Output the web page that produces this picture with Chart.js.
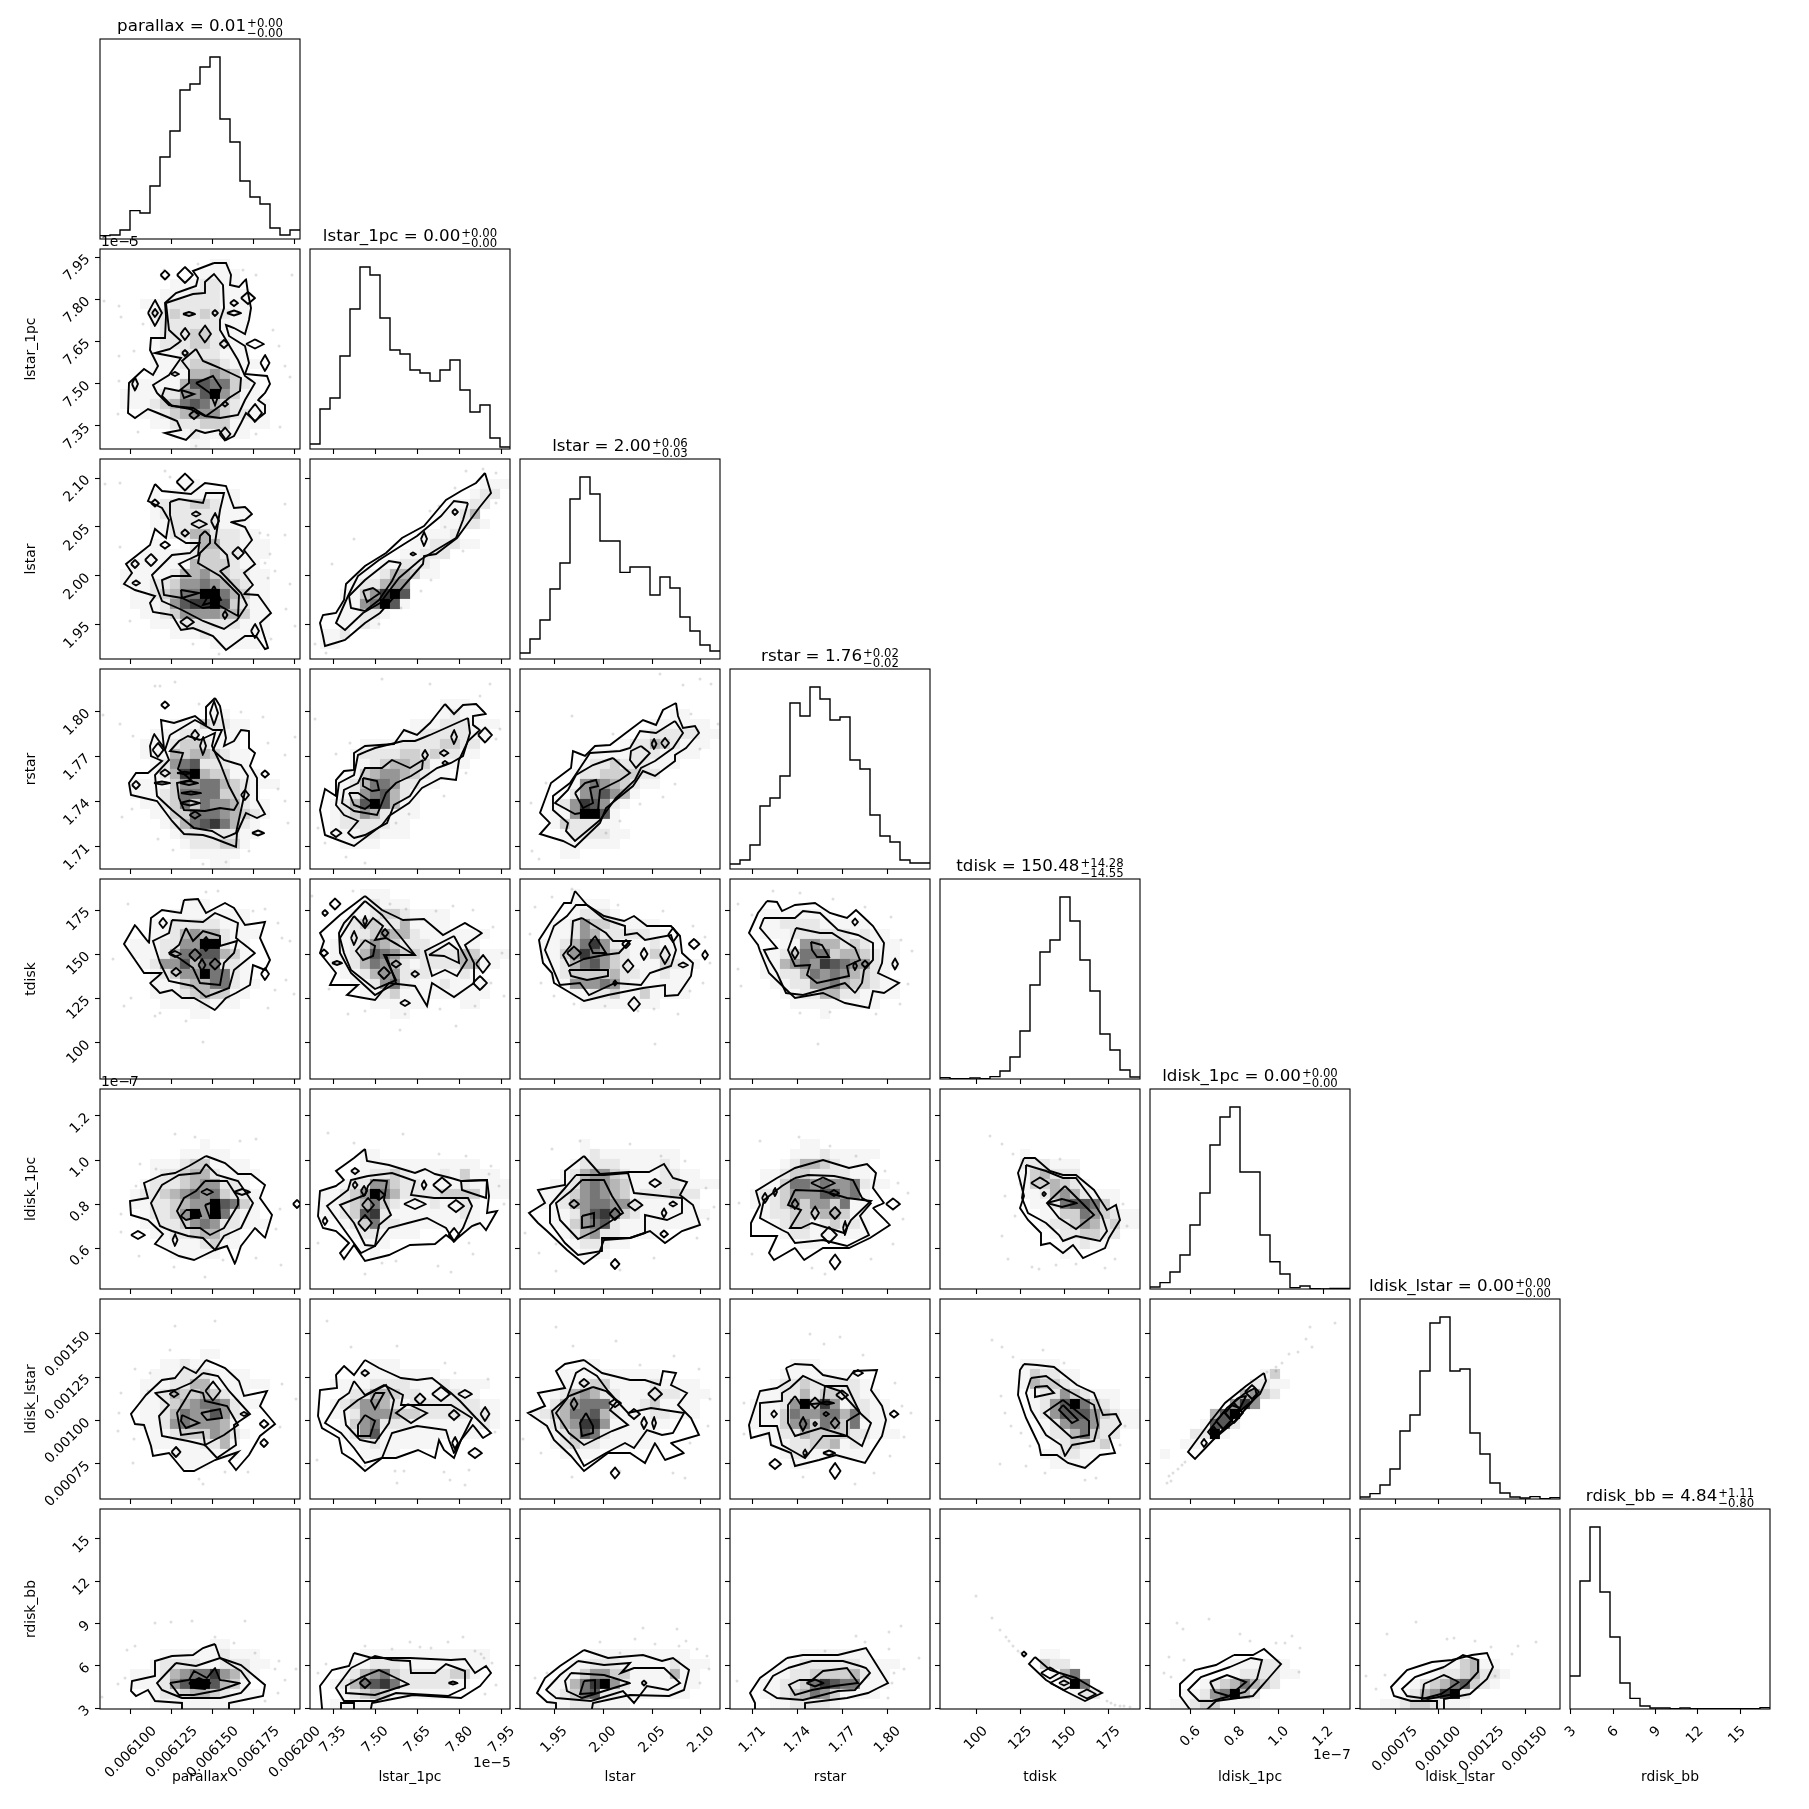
<!DOCTYPE html>
<html>
<head>
<meta charset="utf-8">
<script src="https://cdn.jsdelivr.net/npm/chart.js@4"></script>
<style>
  html, body { margin: 0; background: #fff; }
  #fig { position: relative; width: 1809px; height: 1809px; overflow: hidden; font-family: "DejaVu Sans", sans-serif; color: #000; }
  #fig canvas { position: absolute; }
  .txt { position: absolute; font-size: 13.9px; white-space: nowrap; line-height: 1; }
  .ttl { text-align: center; width: 300px; font-size: 16.7px; }
  .ss { display: inline-block; vertical-align: -6px; font-size: 11.7px; line-height: 10px; text-align: left; margin-left: 1px; }
  .ss span { display: block; }
</style>
</head>
<body>
<div id="fig"></div>
<script>
// names, titles
const names = ["parallax", "lstar_1pc", "lstar", "rstar", "tdisk", "ldisk_1pc", "ldisk_lstar", "rdisk_bb"];
const medians = ["0.01", "0.00", "2.00", "1.76", "150.48", "0.00", "0.00", "4.84"];
const plusErr = ["0.00", "0.00", "0.06", "0.02", "14.28", "0.00", "0.00", "1.11"];
const minusErr = ["0.00", "0.00", "0.03", "0.02", "14.55", "0.00", "0.00", "0.80"];

// axis ranges, lstar_1pc in 1e-5 and ldisk_1pc in 1e-7 as on the axes
const axisLo = [0.0060811, 7.268, 1.915, 1.695, 79.6, 0.4163, 0.0005473, 2.936];
const axisHi = [0.0062031, 7.979, 2.1195, 1.8283, 192.7, 1.3213, 0.001702, 17.1];
const tickVals = [
  [0.0061, 0.006125, 0.00615, 0.006175, 0.0062],
  [7.35, 7.5, 7.65, 7.8, 7.95],
  [1.95, 2, 2.05, 2.1],
  [1.71, 1.74, 1.77, 1.8],
  [100, 125, 150, 175],
  [0.6, 0.8, 1, 1.2],
  [0.00075, 0.001, 0.00125, 0.0015],
  [3, 6, 9, 12, 15]
];
const tickText = [
  ["0.006100", "0.006125", "0.006150", "0.006175", "0.006200"],
  ["7.35", "7.50", "7.65", "7.80", "7.95"],
  ["1.95", "2.00", "2.05", "2.10"],
  ["1.71", "1.74", "1.77", "1.80"],
  ["100", "125", "150", "175"],
  ["0.6", "0.8", "1.0", "1.2"],
  ["0.00075", "0.00100", "0.00125", "0.00150"],
  ["3", "6", "9", "12", "15"]
];

// 1-d histograms, 20 bins each
const hist0 = [1.7,2,4.5,14.2,13,26.5,41,54,74.5,77.5,86,91,60,48.5,29,21,17.5,5.5,2,4.5];
const hist1 = [2.5,20,25.5,46.5,70,91,87,65.5,49.5,47.5,39.5,38,34,39.5,44.5,29.5,18.5,22,5.5,1];
const hist2 = [3,10,19.5,35,48,80,91,82.5,59,59,43.3,46,46,32,41,35.5,21,14,7,4];
const hist3 = [2.5,4.5,12,31.5,35.5,46.5,83,76.5,91,85,74.5,76,54.5,50,27,16.5,13.5,4.5,3,3];
const hist4 = [0.7,0.2,0.2,0.5,0.2,1.2,4,11,24,47,63.5,69.5,91,79,59.5,44,22.5,14.5,4.5,1];
const hist5 = [1,3.2,8.5,17,32,48,72,86,91,58.5,58.5,27,13.6,7.5,0.7,1.5,0.2,0,0.3,0.3];
const hist6 = [1,2.7,7,15,34,42,64,88,91,64,65,33,22.5,8,3,1,0.5,1.2,0.2,0.7];
const hist7 = [16.5,64,91,58.5,36,13,5.3,1.5,0.5,0.5,0.2,0.5,0.2,0.2,0.2,0.2,0.2,0.2,0.2,0.7];
const hists = [hist0, hist1, hist2, hist3, hist4, hist5, hist6, hist7];

// 2-d panels. Everything below is read in histogram-bin units of the two variables
// (0..20 along each axis, y counted from the low end), converted to values by binToVal.
// c = contour vertices x,y,x,y.. ; d = single-bin islands cx,cy,rx,ry ; h = bin density 0-9, top row first ; s = samples x,y,..
const c10 = [
  [11.4,18.6,12.6,18.6,13.1,17.4,13,16.4,13.9,16.2,14.6,17,14.8,15.6,15.1,14.1,14.9,12.9,14.5,11.5,13.4,12.1,12.6,12.4,12.9,11.3,14.5,10.3,14.9,8.6,14.5,7.5,16.7,7.3,17,6.5,16.5,5.6,15.8,4.9,16.5,4.4,16.5,3.6,15.5,2.8,14.6,3.6,14.1,2.6,13.4,1.3,12.6,0.9,11.9,1.9,10.5,1.6,9.6,1.9,8.6,0.9,6.5,1.6,8.1,1.9,7.7,2.8,6.5,3.3,4.8,4,3.5,3.1,2.8,3.6,2.9,6.6,4.4,8,5.3,7.4,5.8,8.3,5,9.9,5.1,11.1,6.5,11.1,6.6,13.3,6.5,14.6,7.6,15.6,9.6,16.3,9.8,17.1,9.3,17.8],
  [6.6,14.6,9.3,15.5,10.5,15.6,10.5,16.7,11.4,17.5,12.3,16.4,12.4,14.1,12,12.9,12,11.9,12.6,10.9,13.8,8.9,14.5,7.3,15.5,6.6,14.5,4.9,13.8,3.4,12,3.1,10.5,3.3,9,4,6.9,4.4,5.7,5.6,5.3,6.4,6.9,7.4,8.1,9.1,5.5,9.6,7,10,8.1,10.8,6.9,11.9],
  [9.6,10,10.3,8.8,12,8.1,14.1,7.1,14,5.8,12.9,5.1,12,4.3,10.6,3.3,9.3,4.1,7.2,4.3,6.2,5.3,6.5,6.1,7.9,5.8,8.9,6.6,8.9,7.9,8.2,8.8],
  [9.6,6.6,11.3,7.3,12.1,6.1,11.5,4.4,11,5.6],
  [8.1,5.9,9.4,5.5,8.4,5.1]
];
const d10 = [6.5,17.4,0.45,0.45,8.5,17.4,0.8,0.8,5.5,13.6,0.7,1.3,5.5,13.6,0.3,0.4,8.9,13.5,0.6,0.2,11.5,13.6,0.3,0.3,13.4,14.6,0.4,0.3,13.4,13.6,0.7,0.25,8.5,11.5,0.45,0.6,10.5,11.5,0.6,0.85,12.4,10.5,0.45,0.4,15.5,10.5,0.9,0.45,16.5,8.6,0.45,0.8,8.5,9.6,0.3,0.3,7.5,7.5,0.4,0.2,3.5,6.5,0.3,0.65,15.5,3.6,0.7,0.9,9.4,3.4,0.5,0.4,12.5,4.5,0.3,0.25,12.5,1.5,0.55,0.65,14.8,15.1,0.7,0.6];
const h10 = ["","00000000000110","000000000011110","0000000111221100","00000011122211100","00001112222211100","00000223223221100","00000122222211100","000001222332111000","0000012223322110000","00000111222211100","000001112333211100","00000111144543100","000111114776632100","001111225579531100","001112346764321110","000011234555322110","0000011222333111100","000000011211211","00000000011"];
const s10 = [0.4,14.8,1.9,14.3,2.1,13.2,4.3,12.5,6.4,17.9,9.8,18.5,14.3,17.9,15.6,17.4,19.2,17.4,3.4,9.8,1.9,9.3,1.9,6.8,18.5,8.3,19,7.2,1.8,3.5,3.8,1.7,12.4,2.1,15.6,1.5,18,2.2,9.6,0.3,17.3,11.9,17.9,10.3];

const c20 = [
  [5.5,17.5,6.2,16.8,9.1,16.5,10.5,17.6,12.6,17.3,13.1,15.9,13.4,15.1,14.5,15.2,15.2,14.5,14.5,13.9,13.1,13.7,14.5,13.2,15.2,11.9,14.4,10.9,15.5,9.5,14.4,8.6,15.3,7.4,14.4,6.5,15.8,6.4,17.1,4.6,16,3.6,16.8,1.1,16.5,1,15.6,2.3,14.5,2.3,12.6,0.9,11.3,2.3,9.3,3.1,8.1,2.9,7.2,4.4,5.3,4.7,5,5.6,5.5,6.3,3.5,6.9,2.4,7.5,3.2,8.6,2.6,9.5,5,11.4,5.5,13,6.6,12.1,6.9,13.9,6.2,15.1,4.8,15.8],
  [7,15.7,7.9,16,10.3,15.6,10.6,16.6,12.4,16.6,12,14.9,11.5,11.6,12.7,10.4,12.9,9.3,12,8.8,14.1,6.6,14.7,5.4,13.7,3.9,12.4,3,10.3,3.8,8.2,4.9,6.2,5.8,5.2,8.4,7.2,10.4,9,10.6,10,11.6,8.6,11.6,7.5,12.3,7,14.4],
  [10.5,12.8,11,12.3,11,11.6,10,10.6,9.8,9.6,12,8.3,13.9,6.4,13.8,4.3,12,5.3,10.3,5.1,8.2,6.1,6.4,6.4,6.2,7.9,7.2,8.3,9,8.3,7.9,9.5,9.8,10.4,10,12.3],
  [11.4,7.3,12.1,5.9,10.3,5.4],
  [8.1,6.9,9.9,6.6,8.2,6.1]
];
const d20 = [8.5,17.7,0.85,0.85,5.5,15.6,0.4,0.35,9.6,14.5,0.45,0.25,9.9,13.5,0.8,0.4,11.5,13.8,0.4,0.8,8.5,12.6,0.4,0.35,3.5,9.5,0.4,0.4,5.1,9.9,0.6,0.6,6.5,11.4,0.5,0.35,3.6,7.6,0.4,0.25,13.8,10.6,0.6,0.6,8.7,3.7,0.7,0.5,15.5,2.8,0.4,0.7,12.5,4.4,0.25,0.4];
const h20 = ["","","0000000011","00000101111111","00000122233211","00000122222211100","00000112222211100","000000122442221100","00000100124422111","00001111123322111","000111111433321100","001111124453322110","00111223556543211","00011234669964311","00011125788973211","0000112355554431100","0000011122222211100","00000001112111111","0000000000011111","00000000000"];
const s20 = [0.5,17.5,2,17.6,6.5,18.8,7,18.2,18.5,15.5,16,12.6,16.8,12.4,18.5,12.4,17,10.5,16.5,9.6,17.5,8.8,16.8,8.1,19,7.5,19.5,3.3,18.6,5,17.1,2,9.3,1.5,11.9,0.5,3,3.8,2,11.2];

const c21 = [
  [17.5,18.6,18.1,16.6,16.9,15.1,14.7,12.1,12.6,10.5,11.4,10.3,11.3,9.5,9.8,7.8,7,4.6,5.5,3.6,3.5,1.9,1.5,1.3,1.3,2.3,1,3.6,1.3,4.4,2.6,4.6,3.4,5.9,3.6,7.5,5.5,9.3,7.6,10.6,9.2,12.1,11.4,13.3,13.6,15.9,15.1,16.8,16.6,17.6],
  [15.8,15.6,14.4,15.8,13.1,14.3,10.7,12.3,9.1,11.3,6.9,9.9,4.8,8.3,3.8,6.3,2.6,3.6,3.5,2.9,5.3,4.6,7,5.6,8.9,8.1,11,9.9,12.6,10.9,14.6,12.1,15.3,13.9],
  [9.1,9.6,7.9,9.8,5.5,7.9,3.9,6.3,4.1,5.1,5.5,4.8,6.9,5.9,8.2,7.8],
  [5.3,6.8,6.3,7.1,7,6.6,5.7,5.7]
];
const d21 = [14.5,14.7,0.3,0.3,11.4,12,0.3,0.7,10.3,10.5,0.3,0.15];
const h21 = ["","","00000000000000000111","0000000000000000122","000000000000001122","00000000000001124","000000000000011221","000000000001112","00000000001122211","00000000011222","0000000112221","0000011244311","0000122455","0001135897","0001156971","00011221","0001121","0112","011"];
const s21 = [17.3,19,18.6,18.6,15.6,18.8,14.5,17.1,12.9,15.3,12,14.8,13.5,13.2,15.3,10.8,12.1,7.9,11.1,6.8,9.1,5.1,6.9,3.5,2.2,9.5,0.5,1.5,1.6,0.6,4.4,12,18.6,15.6];

const c30 = [
  [11.5,17.1,12,16.3,12.6,13.1,12.4,12.3,13.4,12.8,14.1,13.9,14.9,13.8,14.9,12.1,15.5,11.6,15,10.3,15.7,9.1,15.7,6.9,16.5,5.5,15.7,5.1,14.6,5.6,13.7,3.6,13.6,2.2,11.3,3.1,10.3,3.4,8.4,3.5,7.2,4.8,5.7,6.8,3.1,7.4,2.9,8.6,3.6,9.6,4.8,9.6,6.2,10.8,5.1,11.3,5,12.3,5.4,13.5,6.4,12.1,6.1,14.9,7.4,14.6,9.5,15.3,10.6,14.4,10.6,16.2],
  [7,13.4,9.5,14.9,11.3,13.9,12.2,13.9,11.3,11.9,12.4,10.9,14.1,10.4,14.8,9.3,14.3,6.8,13.6,3.6,12.4,3.1,11.2,3.8,9.4,4.1,7.2,5.9,5.7,7.3,5.5,9.4,6.9,10.9,6.5,11.9],
  [10,12.9,11.5,13.6,11.2,12.3,12,10.6,12.9,8.3,13.8,6.6,13.4,5.9,12,6.1,10.5,5.8,8.4,5.9,7.9,7.1,7.7,8.6,9.1,8.9,7.8,10,8.3,11.6,7,11.8,7.9,12.8,8.8,13.3]
];
const d30 = [6.5,16.4,0.4,0.35,11.4,15.6,0.4,1.2,9.5,13.4,0.4,0.5,5.8,11.9,0.55,0.7,6.5,9.6,0.5,0.35,3.6,8.4,0.4,0.4,16.5,9.5,0.4,0.35,14.5,7.4,0.4,0.5,15.8,3.6,0.6,0.25,9.5,5.4,0.55,0.35,10.3,12.3,0.3,0.9,8.5,9.6,0.8,0.12,6.2,8.6,0.8,0.15,8.9,8.6,0.9,0.2,9.1,7.6,1,0.15,9,6.6,1,0.25];
const h30 = ["","","","000000000000","00000000000110","000000011132211","00000111221111","00001112332111","000011143443211","000001256722211","00000124894331110","000111135566432111","0001112366663321","000011236365542110","00000113366654321","0000001246786421","0000000122222211","000000001222331","00000000011111","0000000000011"];
const s30 = [0.3,15.4,2,14.5,3.3,13.3,5.5,18.3,6,18.3,7.5,18.7,9.9,16.5,14.1,15.7,16.3,15.2,16.8,12.6,18.5,11.4,19.5,13.2,17.8,8,18.5,6.8,18.8,4.6,3.2,6,2.2,5.2,5.8,3,7.3,1.9,10.3,0.5,12.6,0.7,14.9,1.8];

const c31 = [
  [13.5,16.5,14.4,15.5,15.3,16.4,16.6,16.5,17.6,15.5,16.3,15.3,16.3,14.4,17,13.9,15.8,12.8,14.9,10.9,14.6,8.9,13.1,9.1,11.2,8.1,9.9,6.6,7.9,5.3,7.2,4.4,4.4,2.3,1.5,3.4,1,5.9,1.5,8,2.6,7.3,2.6,8.9,3.4,9.8,4.4,9.9,4.4,11.6,5.5,12.3,8.4,12.5,9.4,13.9,10.7,13.4,12,14.6],
  [15.8,15.1,16,13.6,15.3,11.3,14.1,10.6,12.7,10.1,11,8.9,10,7.3,8.4,6.4,7.7,4.6,5.5,3.4,4.4,3.1,3.8,3.6,4.8,4.8,3.4,5.4,2.6,6.4,2.9,8.6,4.4,9.4,4.8,11.4,6.5,12.1,9.3,12.8,10.5,12.8,12,13.4],
  [11.3,10.9,10,10.1,8.2,10.9,7.2,10.1,5.5,10.1,4.8,8.6,3.4,7.9,3.2,6.6,4.4,5.8,6.7,5.4,7.6,7.6,8.6,8.6,10.1,9.3,11.2,10],
  [5.3,9.1,6.7,8.8,6.9,7.9,6.2,7.8,5.3,8.3],
  [3.9,7.6,4.8,7.6,6.3,6.6,5.5,6,4.4,6.4]
];
const d31 = [2.6,3.6,0.55,0.4,14.4,13.2,0.3,0.7,13.4,11.6,0.45,0.3,11.5,11.4,0.3,0.5,13.5,10.6,0.3,0.2,17.5,13.4,0.7,0.75];
const h31 = ["","","","0000000000000111","00000000000001211","0000000000111222111","000000000112222211","00000111122223322","00001222233232211","0000112344331111","00001345543211","0001246652211","00012567421","00124797411","00123542111","0012222211","0011122111","0001111","000"];
const s31 = [7.2,19,12,18.5,18,18.5,17,17.3,19,14,18.6,13,15.6,9.6,13.4,7.3,9.9,5.5,8.6,4.6,0.8,4.1,1.5,2.6,3.6,1.2,5.5,0.6,4,12.6,2.6,11.5,0.5,15];

const c32 = [
  [15.6,16.6,15.8,15.3,16.3,14.1,17.5,14.3,17.9,13.6,16.6,12.1,15.5,11.4,15.5,10.8,13.5,9.3,12.3,9.8,11.3,8.3,8.6,6.1,8,4.6,5.5,2.2,4.3,2.8,2,3.5,3,4.6,2,5.6,3.1,8.6,5.1,10.1,5.3,11.8,6.5,11.3,7.5,12.3,9,12.4,12.3,14.9,13.6,14.4,14.3,15.9],
  [15.5,14.8,16.3,13.6,15.3,12.1,13.5,10.8,12.1,10.1,11.5,8.9,9.6,7.1,8,4.9,5.5,2.8,4.6,3.8,4.8,4.6,3.3,5.9,3.3,7.3,5,8.6,7,11.6,10,11.8,11,12.1,12,13.8,13.6,13.6],
  [9.3,11.1,11,9.6,10,8.9,8,7.9,7.8,5.9,5.5,5.5,3.5,6.6,4.8,7.9,5.6,9.4,7.3,10.4],
  [12.1,12.3,13,11.6,11.6,10.1,11,10.9,11.1,11.8],
  [5.5,7.6,6.5,8.6,7.6,8.9,7.8,8.3,7,8.1,7.3,6.6,6.3,6.1]
];
const d32 = [13.4,12.5,0.25,0.5,14.5,12.6,0.4,0.5];
const h32 = ["","","","","00000000000000011","0000000000000111111","000000000000122222111","0000000000122432111","000000011112221111","0000001223222111","00000122333322","00000156543211","000002567541","00012587521","0001159971","0001322211","00001222211","0000111111","000011"];
const s32 = [14,19.5,16.3,18.4,18,19,19.1,18.5,17.1,15.5,19.8,14.5,18,12,15.5,8.5,14.3,7.2,12,6.5,10,4.8,8.6,3.6,2.6,8.6,1.1,6.6,1.2,1.8,1.9,1,9.3,13.5,5.2,15.3];

const c40 = [
  [8.4,17.9,9.8,18,10.6,16.6,12.5,17.6,13.4,17.1,14.5,15.4,16.5,15.7,16,14.1,17,11.9,16.5,10.9,15.3,11.4,15,9.4,13.6,8.6,12.6,8.1,11.5,6.9,9.4,8.1,8.2,8.1,7.2,8.9,6,8.6,5,9.6,6.2,10.6,4.4,10.6,2.4,13.5,3.5,15.4,4.9,13.6,5.1,16.1,6.2,16.9,8.1,16.6],
  [7.2,15.9,10.3,15.7,11.5,16.6,13.8,15.6,13.6,14.1,15.5,12.6,13.4,10.9,12.9,9.1,10.6,8.2,9.3,9.3,6.9,9.8,6,11.6,5.3,13.8,6.9,14.6],
  [8.6,15.1,9.3,13.8,10.3,14.8,12,14.3,12,13.3,13.7,13.8,13.4,12.6,12.4,11.6,12,9.4,10,9.6,9.3,11.1,7.9,12.1,6.9,12.6,7.9,13.4]
];
const d40 = [6.3,15.6,0.4,0.5,7.5,12.5,0.6,0.3,9.5,12.4,0.6,0.6,10.6,13.5,0.55,0.7,11.5,11.5,0.55,0.55,10.2,11.4,0.35,0.6,7.6,10.7,0.5,0.4,16.5,10.5,0.4,0.6];
const h40 = ["","","00000000111","000000011111111","000001122222111","0000011245442111","000111225599211","000111246677431","000012557466221","000001235596621","0000011134466211","000001112343311","000000111121110","00000000011",""];
const s40 = [2.8,17.5,10.6,18.7,11.8,18.8,15.3,16.8,16.5,17,17.8,15.6,18.2,14.1,19,13.8,18.6,9.9,17.5,8.9,19.4,8.5,3.1,8.1,2.4,7.3,5.5,6.3,8.6,5.8,10.3,3.7,6,6.6,1.3,12,16.8,7.1];

const c41 = [
  [5.5,18.3,7.2,16.9,9.3,15.9,11.4,16,13.3,14.4,15.5,15.6,17.2,14.6,15.5,13.4,16.4,11.6,16.4,9.6,14.4,8.2,12.2,9.6,11.7,7.3,10.5,9.3,7.9,9.6,6.5,7.9,3.7,8.4,4.8,9.4,2,9.4,2.6,10.6,1,12.6,1.4,13.8,1,14.6,3,16.4],
  [5.5,17.8,7.2,16.4,8.9,14.4,10.5,12.4,7.6,12.4,8.6,9.6,6.5,8.4,4.1,10.6,3,12.6,2.9,14.6,3.4,15.6],
  [4.4,16.3,5.5,15.1,6.3,16.1,7.3,15.3,6.5,13.9,7.6,14.1,10.5,12.4,7.4,12.4,8.6,9.9,6.5,9,4.1,10.9,3.4,12.6,3,14.1],
  [5.5,13.9,6.5,13.3,6.3,12.3,5.3,11.9,4.6,12.8],
  [11.9,12.4,13.9,13.6,14.8,12.9,14.9,11.6,13.4,12.3],
  [14.4,14.3,15.7,11.9,14.7,10.3,13.5,10.9,12.2,10.3,11.5,12.8]
];
const d41 = [2.5,17.5,0.55,0.55,1.5,16.6,0.3,0.3,5.5,15.8,0.2,0.5,4.4,14.1,0.3,0.7,7.5,14.6,0.35,0.4,1.4,12.6,0.4,0.35,2.7,11.6,0.5,0.2,8.6,11.5,0.5,0.35,10.5,10.5,0.4,0.3,7.4,10.6,0.6,0.6,17.3,11.5,0.7,0.9,17,9.6,0.7,0.7,9.5,7.6,0.5,0.3];
const h41 = ["","00000111","0000012111","00001123321111","00012332241111","000122354421111111","00112354322211111","00112476533222243111","0011246542122224411","00011245522211121","000011256211121111","000001123111111111","00000011111100011","0000000011"];
const s41 = [0.2,18.3,4.3,18.8,8,17.5,9.6,17,12.6,16.8,14.3,17.3,16.3,16.9,18.3,15.2,19.2,12.6,18.1,9.6,19.4,8.3,13,7,9.5,6.5,3.8,6.5,5.5,6.8,1.9,9,14.6,5.3,9,4.9,16.5,7.3];

const c42 = [
  [5.5,18.8,6.7,17.4,8.4,16.3,10.4,15.8,11.4,16.3,12.7,15.3,15.1,15.3,16,14.3,16.2,12.6,17.3,11.6,17.1,10.3,15.8,8.4,14.5,8.3,14.5,9.4,12.3,9.1,8.8,8.4,6.4,7.8,3.4,9.6,3.2,10.6,2.3,11.6,1.9,13.9,3.2,15.9,4.4,17.6,5.1,17.6],
  [6.7,17.4,8.4,16,10.5,15.3,10.5,14.4,11.7,14.6,12.5,13.9,15.1,14.4,15.6,12.9,15.1,11.3,13,10.6,12.1,9.4,9.5,9.6,6.9,8.4,6,9.6,4,9.4,2.5,12.9,3.4,15.3,4.7,16.3,5.6,17.4],
  [6.2,16.1,8.6,14.6,9.3,13.8,11,13.8,9.9,12.6,8.4,12.4,6.4,12,4.9,11.3,4.3,12.4,5.1,13.4,5.3,15.8],
  [4.9,10.9,7.3,10.9,8.8,10.9,8.8,10.3,6.7,9.9,5.1,10.3],
  [6.9,13.5,7.5,14.3,8.6,12.6,7.3,12.6]
];
const d42 = [5.4,12.6,0.7,0.65,10.6,13.5,0.4,0.4,12.4,12.5,0.35,0.6,14.5,12.4,0.5,0.9,10.8,11.3,0.55,0.65,16.3,11.4,0.5,0.25,9.5,9.6,0.2,0.25,15.3,14.4,0.5,0.7,17.4,13.5,0.55,0.5,18.5,12.4,0.3,0.45,11.4,7.5,0.6,0.7];
const h42 = ["","000001","000001111","0000012221","00011253321111","000112542222211","0011246852111211","0011358653211321","000124675321113211","00012333342211211","00001555652111111","00000112231131111","00000011111111","0000000",""];
const s42 = [1.5,17.2,3.2,18.2,5.2,19,9.8,17.4,14.3,16.8,17.3,15.3,18.5,14.2,19,11.6,18.3,9.6,17,8.8,3.4,8.3,2.1,9.6,5.4,7.5,8.5,7.3,11.8,6.8,13.4,7,15.8,6.5,1,14.5,13.5,3.5];

const c43 = [
  [3.7,17.8,4.7,17.7,5.2,16.8,6.5,17.4,8.5,17.6,10,16.6,11.7,16.1,12.6,16.9,14.3,15.3,15.4,13.6,15.2,11.6,14.8,10.6,16.9,9.6,15.4,8.6,14.3,8.8,13.9,7.1,11.5,7.6,9.3,8.6,6.5,8.1,3.9,10.6,3,12.8,2.8,13.4,1.9,14.6,2.8,16.6],
  [3.4,16.1,6.5,16.1,7.3,16.8,9,16.6,10.8,14.9,12.8,14.4,14.3,13.6,14.3,11.9,13.4,10.9,13.2,9.6,12.5,8.6,11.5,9.6,7.3,8.4,5.6,8.6,4.7,10.6,3.9,11.9,3.4,12.9,4.7,13.1,3,15.1],
  [6.6,15.1,9,14.6,10.2,14.6,12.5,13.1,13,11.9,11.7,11.3,11.9,10.3,8.7,9.6,7.7,10.4,8,11.4,6.5,11.3,5.8,12.9,6.3,14.3],
  [8.1,13.7,9.2,13.4,9.9,12.2,8.7,12.2,8.2,12.9]
];
const d43 = [12.5,15.7,0.3,0.35,6.5,12.6,0.35,0.6,12.5,11.3,0.2,0.4,13.5,11.5,0.35,0.35,16.5,11.5,0.3,0.55];
const h43 = ["","","0000000","0001111111","00011222211111","0001112222221211","00000115544232111","00011236663443211","00011456587655211","0001122465654321","00001122556433211","00000112244221111","000000111111111","0000000001",""];
const s43 = [0.8,17.5,2.2,16.4,4.3,18.8,7,18.6,10.3,18,13.5,17.2,16.1,16.2,17.1,13.9,18.2,12.8,17.8,9.5,17,7.5,14.6,6.5,10,6.7,7,6.6,8.8,3.5,0.8,11,1.1,9.3];

const c50 = [
  [10.6,13.3,12.5,12.6,13.8,11.5,15.1,11.5,16.5,10.4,16,9.1,17.2,7.4,16.5,5.1,15.5,6.1,14.1,4.3,13.5,2.5,12.7,4.3,11.5,3.9,9.4,2.9,7.9,3.3,5.5,4.5,6.3,5.5,4.8,6.9,3.1,7.4,3,8.8,4.8,9.1,4.4,10.6,6.2,11.4,7.5,11.6,8.9,12.3],
  [10.6,12.5,11.7,11.4,13.8,10.8,15.3,8.6,14.1,6.1,12.4,5.3,11.5,3.9,10.3,5.1,8.8,5.3,7.2,5.8,6,6.3,5.1,8.6,6.2,10.4,7.9,11.4,10,11.6],
  [10.5,10.8,12.7,10.8,13.8,9.1,13.8,8.4,12.4,6.1,11,5.4,10,6.1,8.6,6.1,7.7,7.8,8.4,9.1,9.6,9.8],
  [8.6,7.9,9.9,7.9,10.1,7.3,8.6,6.9,8.1,7.3],
  [10.5,8.4,11.9,8.9,12,7.1,11,7.1]
];
const d50 = [10.7,9.7,0.6,0.3,14.2,9.7,0.8,0.3,3.8,5.4,0.7,0.4,7.5,4.9,0.25,0.6,19.7,8.5,0.4,0.4];
const h50 = ["","","","","","00000000001","0000000011111","000001112331111","00000122344211110","000012223455221","00012234565632210","0001122345597631","00001223595962110","00001122356522111","00000112234421","00000011112311","000000011111",""];
const s50 = [7.5,15.5,9.5,15.2,14,14.8,15.6,15,5.6,12,4,12.5,3.6,10.3,2.1,7.5,18,8,17.6,6,2.1,5.7,3.9,3.3,7.4,2.2,10.5,1.2,12.3,2.9,18.1,2.4,15.6,3.1];

const c51 = [
  [5.5,14,5.7,12.8,7.9,12.4,10.5,11.6,11.5,12,12.5,11.5,14.1,11.1,15.1,10.8,17.7,10.9,17.9,9.3,17.7,7.6,18.7,7.8,17.6,5.9,17,6.6,16.2,6.3,14.4,4.8,13.6,5.4,12.5,4.5,10,4.4,7.9,3.4,5.5,2.8,4.4,4.4,3.4,3,3,3.6,3.9,4.6,2.6,5.8,1.3,6.1,0.8,7.3,1,9.8,2.6,10.3,3.4,10.9,2.6,11.8,4.4,13.1],
  [5.8,11.3,8.2,11.6,10.5,10.8,10.1,9.4,12.4,9.1,15.8,9.1,16.2,8.3,15.3,6.1,14.4,4.8,13.6,6.1,11.7,7.1,7.9,6.1,6.5,4.3,5.1,3.6,3.8,5.4,1.7,8.3,3.8,9.9,4.1,10.9],
  [6.3,10.9,7.7,10.8,7.4,8.9,8.1,7.4,6.9,6.4,6.5,4.3,5.5,4.4,4.4,6.6,3,8.4,5.5,9.4,5.8,10.3],
  [15.1,10.8,17.7,10.9,17.6,9.1,15.2,9.9]
];
const d51 = [5.8,8.4,0.6,0.7,5.5,6.6,0.7,0.8,6.9,9.4,0.6,0.5,4.5,11.8,0.4,0.3,4.5,10.4,0.25,0.35,5.4,9.8,0.3,0.5,11.4,10.4,0.25,0.45,13.2,10.4,0.9,0.75,10.5,8.5,1.1,0.5,14.6,8.3,0.8,0.6,14.4,5.4,0.55,0.7,1.5,6.8,0.25,0.4];
const h51 = ["","","","","","","0000011","00000111111111111","0000112232111213111","00012255322111121111","01123596422223333111","01123463211121121","01123782111111121","00012362211111111","00001221111","00000111","0000001",""];
const s51 = [1.8,15.6,4.4,14.6,9.3,15.5,12.9,13.5,15.6,13.3,18.1,12.3,18.9,10.3,17.9,11.5,19.4,8.5,15.9,4.6,16.3,3.5,8.6,2.8,7.2,2.6,12.8,2.3,14.1,1.7,5.5,1.5,0.8,4.6];

const c52 = [
  [6.4,13.3,8,11.5,10.9,11.7,12.9,11.7,14.4,12.5,15.3,11.1,16.7,10.7,16,9.4,17.3,8.4,18,6.4,16.2,5.8,14.5,4.6,13,5.8,11,5.1,8.4,4.9,7.9,3.6,6.4,2.5,4.7,3.9,2.7,5.8,1.8,6.6,0.9,7.6,2.5,8.6,1.8,9.9,4.5,10.4,4.5,11.8],
  [5.6,11.4,8.4,11.4,10.8,11.6,11.4,9.6,16.2,9.1,16.2,7.6,14.7,6.9,12.5,7.4,12.5,5.6,11,5.1,8.2,5.1,8.2,3.8,5.8,3.4,4.5,4.6,3,6.6,3,8.4,4.5,10.1],
  [6.2,10.9,8.4,10.9,9.2,9.3,10.3,7.6,8.8,6.6,7.5,5.8,5.8,5,4,6.9,3.6,8.6,5.1,9.8],
  [6.2,7.3,7.4,7.6,7.4,6.3,6.2,6.1]
];
const d52 = [5.4,8.5,0.5,0.4,9.5,7.5,0.55,0.6,11.5,8.4,0.75,0.55,13.5,10.6,0.6,0.4,15.3,8.5,0.4,0.25,14.4,7.6,0.25,0.45,14.4,5.5,0.4,0.35,9.5,2.5,0.45,0.5];
const h52 = ["","","","","","0000001","0000001211111111","0000012222111121","000012455321112211","00011256543111221111","001123565431222322","001124566552111111","0001125786321111111","000113567211111111","00001245221111","00000122211","000000111",""];
const s52 = [3.2,14,6,14.8,11,14.5,14.1,13.3,16.5,12.8,18.6,10.1,19.4,8.2,18.8,7,17.7,5.1,0.5,5.6,3.6,4.5,1.9,3.6,3.6,1.8,10,1.9,13.4,3.1];

const c53 = [
  [4.7,11.1,6.5,12.1,9.3,12.9,11.9,12.1,13.7,12.5,14.6,11.6,14.3,10.1,15.4,8.6,14.3,8.1,16,6.4,14,5.1,11.9,4.1,9.3,4.1,7.4,2.9,6.5,4.1,4.4,2.9,3.9,3.6,4.7,5.3,2.1,5.3,2.1,6.6,3,8.4,2.6,9.8],
  [6.5,11.1,7.8,11.4,10.4,11.3,12.3,10.9,13.2,9.1,14.1,8.6,13,7.3,13.9,5.4,11.7,4.3,9.3,4.9,6.5,4.6,5.8,5.6,5.2,5.9,3,7.1,3.4,8.9,5.2,10.3],
  [6.5,9.9,9.3,9.8,11.7,9.1,14.1,8.8,12.1,6.9,11.4,5.6,8.2,6.6,7.1,6.1,6,6.1,7.1,7.9,5.8,8.4]
];
const d53 = [9.3,10.6,1.2,0.55,10.4,9.6,0.5,0.3,6.5,8.5,0.35,0.5,8.5,7.6,0.4,0.65,10.5,7.6,0.55,0.6,9.9,5.4,0.8,0.8,11.5,6.1,0.2,0.7,4.5,9.7,0.2,0.4,3.5,9.1,0.3,0.5,16.3,8.5,0.7,0.55,10.5,2.7,0.55,0.75];
const h53 = ["","","","","","000000011","000000111211111","00000124432111","00011233222211","0001136656556211","00122355577561","00112353553611","00012233344311","00001233123221","00000122111111","000000011",""];
const s53 = [3,14.8,6.9,15.2,10,14.3,12.6,13.3,16.8,10.6,17.8,9.6,17.3,7,16.3,4.5,2.2,3.5,8.2,2.1,9.5,1.5,14.1,3,0.9,8.6,15.5,11.8];

const c54 = [
  [8.4,13.1,9.5,13.1,11,11.8,12.3,11.4,13.6,11.4,15.4,9.9,16.7,7.9,17.6,8.4,18,6.9,16.9,5.1,16.5,4.1,14.3,3.1,13.3,4.4,12.3,3.6,11,4.6,10.1,4.4,10.1,5.6,8.8,6.9,8,8.1,8.4,9.3,7.8,11.6],
  [8.6,12.4,10.6,11.8,12.3,11.1,13.6,11.1,15.1,9.1,16.2,7.3,16.7,5.8,16,4.8,13.6,5.3,12.3,4.8,11.9,5.4,10.6,6.6,8.8,7.6,8.2,9.1,8.6,11.6],
  [12.5,10.3,15.4,7.4,13.6,6,11.9,7.1,10.7,8.6]
];
const d54 = [12.2,8.6,1.5,0.4,10,10.6,0.9,0.55,10.4,9.5,0.2,0.2];
const h54 = ["","","","","","","000000001","00000000222111","00000000134222","000000001334321","000000001124542111","000000000112677631","00000000001133653211","00000000001223542311","000000000001223322","00000000000011211","0000000000001",""];
const s54 = [5,15.3,6.2,14.5,7.3,13.5,6.5,9.3,8,10.5,7.5,7.3,6.2,5.3,6.8,3,9.2,2.2,9.9,2,11.6,2.4,13.6,2.5,16.5,2.1,17.5,3,18.7,6.3,18.3,8.5,12,13];

const c60 = [
  [10.6,13.9,12.5,13.1,13.9,11.8,14.4,10.3,16.7,10.8,16,9.3,17.5,7.5,16,6.3,14.9,4.4,13.6,2.9,12.9,3.8,13.8,4.7,11.5,3.9,9.4,2.8,8.4,2.8,6.9,4.6,5.3,4.3,5.1,5.3,4.4,7.4,3.5,7.5,3.1,8.5,4.6,10.4,6.2,11.9,7.5,12.1,8.4,13.2,9.6,12.6],
  [10.3,12.6,11.8,12.3,12.9,10.8,15,8.5,13.4,7.4,13.6,5.4,11.7,4.1,10.5,5.4,8.8,5.8,6.2,6.3,5.9,8.3,6.9,9.4,5.5,10.6,7.5,10.9,9.1,11.6],
  [9.1,10.9,10.3,10.6,10.5,9.8,12.7,9.3,13.8,7.4,12.4,6.4,10.5,5.4,10.3,6.7,8.1,6.4,7.7,8.6],
  [10.1,8.6,12,9,12.2,8.1,10.7,7.9],
  [8.2,8.4,9.9,7.6,8.6,7.1,8.1,7.8]
];
const d60 = [11.3,10.8,0.75,0.95,7.4,10.5,0.45,0.3,14.4,8.5,0.4,0.2,16.4,7.5,0.45,0.4,16.4,5.6,0.4,0.4,7.6,4.7,0.45,0.5];
const h60 = ["","","","","","000000000011","00000011211","000001112221111","00001112244111111","000011243343211","0000112345665211","000011246557521","00001125655541","000001123335421","00000111112241","00000001111111","00000000111","00000000",""];
const s60 = [7.5,17.3,11.5,17.8,7,14.9,3.5,13,5,12.6,4.8,10.8,18.2,11.5,2.1,10.6,1.9,8.6,1.8,6.8,3.4,6,3.3,3.6,10.3,1.5,12.5,2.7,9.9,2,14.8,2.7,18,7.2,19.6,10];

const c61 = [
  [5.5,13.9,6.9,13.1,9.1,12.1,10.7,11.9,12.2,12.1,14.1,10.6,15,9.8,16.6,8.1,18.1,6.6,17.3,6.1,16.3,7.4,15.1,5.9,14.4,4.1,13.4,4.9,12.9,5.9,12.5,4.1,10.8,4.9,8.6,4.1,7.2,4.1,5.5,2.8,4.3,3.9,3.2,4.6,2.9,6.1,1.2,7.1,0.8,8.3,1,10.9,2.7,11.1,2.6,12.4,3.4,13.3,4.4,12.4],
  [4.4,11.8,5.5,10.4,7.4,11.4,9.3,10.4,9.1,9.4,14.1,9.4,16.2,8.1,15.1,5.9,14.4,4.6,13.9,5.9,13.6,6.9,10.7,7.3,8.2,6.6,7.2,4.1,5.5,3.6,4.4,5.1,3.1,6.6,1.5,7.6,2.9,9.9,3.9,10.6],
  [5.5,10.3,7.6,11.4,8.4,9.9,7.9,7.6,6.5,5.6,5,5.9,3.6,7.4,3.4,8.8,4.8,9.9],
  [9.8,9.5,11.7,8.6,10.1,7.6,8.6,8.6],
  [5.5,8.4,6.5,7.8,6,6.3,4.8,6.3,4.8,7.4],
  [6.5,10.6,7.4,10.6,6.5,9,6.1,9.8]
];
const d61 = [5.5,12.6,0.4,0.3,11,10,0.55,0.55,13.1,10.5,0.9,0.7,15.5,10.5,0.7,0.4,14.4,8.4,0.55,0.5,17.5,8.5,0.45,0.7,14.5,5.6,0.3,0.6,16.5,4.6,0.7,0.5];
const h61 = ["","","","","","","000000111","0000011111111","001111222211121111","00012244322111211","0012355421222222211","0011255543322222221","0001356222111111121","00012571111111111","0000112111111","000001111","00000",""];
const s61 = [1.7,17.8,4.1,15.2,8.7,15.3,13.5,13.6,14.5,12.6,18.5,6.7,15.9,2.9,13.4,2.7,8.5,2.8,5.5,3.3,9.4,2.8,8.7,1.6,14,1.9,15.5,1.4,0.7,3.9,17.8,12];

const c62 = [
  [6.4,13.9,8.2,12.6,11,11.9,12.5,11.9,14,11.4,14.3,12.8,15.6,12.6,15.1,11.4,16.7,10.6,15.8,9.4,17.1,8.1,17.9,6.4,15.1,5.6,16.4,4.6,14.5,3.9,13.5,5.6,12.5,3.6,11,4.6,8.8,4.6,6.4,2.8,5.1,4.3,3.4,5.9,2.7,7.3,0.8,8.6,2.5,9.3,1.8,10.6,4.5,11.1,3.6,12.8,4.5,13.5],
  [6.4,13.1,7.7,12.3,8.8,10.8,9.7,9.8,10.8,8.6,13.1,9.1,16.4,8.6,15.3,6.6,14.2,6.4,12.7,6.9,11.4,5.1,10.5,5.6,8.6,4.6,6.4,3.3,5.3,5.3,3.6,6.9,3.2,8.8,4.7,10.1,5.6,12.6],
  [7.3,11.2,8.6,10.8,9.7,9.8,9,8.9,10.8,7.4,9.2,6.8,6.4,5.4,4.9,6.6,3.6,8.6,4.9,10.3],
  [6.6,8.6,7.3,7.3,7.3,6.6,6.2,6.3,6,7.6]
];
const d62 = [5.4,9.5,0.35,0.6,6.4,11.6,0.5,0.4,9.5,9.6,0.6,0.4,13.5,10.5,0.7,0.65,11.4,8.5,0.6,0.5,12.4,7.6,0.3,0.6,13.4,7.6,0.2,0.6,9.5,2.6,0.45,0.55];
const h62 = ["","","","","","","00000011","00001111111111","000011233111121111","0001245422111222111","000245666211231111","012346674211122111","001245885111111","00012476211111","00012322111111","00001111","00000",""];
const s62 = [3.6,17.2,5.3,15.3,9.6,15.8,12,13.4,15.4,14.3,17.9,13,19,10,18.8,7.3,17,5.6,0.3,6,2.1,4.6,5.2,2.2,10,2.8,15.3,2.6,16.5,2.1];

const c63 = [
  [5.6,13.1,6.5,13.5,8.2,13.4,9.3,12.4,11.7,11.9,12.4,12.8,14.7,12.9,14.1,10.9,15.2,9.3,15.6,7.9,15.2,6.3,14.3,4.9,13.5,3.6,10.6,4.4,8.9,3.9,6.5,3.3,6.1,4.6,4.1,5.4,3.9,6.6,2.1,6.1,1.9,7.4,3,10.8,4.7,11.1,6,11.9],
  [6,11.1,7.3,12.3,9.5,11.3,11.7,11.3,13,8.6,14.1,7.6,13.2,5.3,11.7,6.3,9.3,6.3,7.5,4.1,5.2,5.4,4.7,7.3,3,7.3,3,9.6,5.2,9.8,5.2,10.6],
  [6.5,10.3,7.1,9.4,9.3,9.6,9.5,11.3,11,10.8,13,8.6,11.7,7.8,11.7,6.3,9.1,7.1,6.5,6.3,5.8,7.6,5.8,9.4]
];
const d63 = [8.5,9.6,0.55,0.55,10.5,7.6,0.45,0.55,8.5,7.5,0.2,0.2,9.6,8.5,0.3,0.2,11.2,10.4,0.6,0.45,9.7,9.6,0.7,0.15,7.3,7.5,0.35,0.7,4.4,8.5,0.3,0.35,7.5,4.6,0.2,0.35,9.9,4.6,0.6,0.25,4.5,3.5,0.6,0.5,10.5,2.8,0.55,0.8,16.4,8.5,0.45,0.35,12.8,12.6,0.5,0.3];
const h63 = ["","","","","","","000000111","0000011111111","00001223222221","000112242332211","0011125948512211","0011136556646211","0011135636536111","00011224333322111","00001122334121","00000122111111","00000011",""];
const s63 = [8,16.5,11,16.2,13.3,14.4,16.5,11.6,17.2,9.3,18.1,8.6,17.4,6.2,16,4.3,14.4,2.6,12.5,1.5,7.3,2.2,1.4,6.5,1.4,9.6,9.4,15.5];

const c64 = [
  [8.4,13.5,9.7,13.4,11.4,13.2,13.7,11.4,15.4,10.6,16.3,8.4,17.6,8.5,18.1,7.5,16.9,6.3,17.5,4.6,16,4.4,14.5,3.1,12.8,3.6,11.7,4.4,10.1,4.4,9.9,5.4,8.6,8.1,7.8,10.4,8,12.9],
  [9.1,12.1,10.6,12.3,12.3,11.1,15.4,9.4,15.8,7.4,15.4,5.8,13.2,5.4,12.5,4.3,12.1,5.4,10.6,6.4,9.1,8.9,8.6,10.6],
  [9.5,11.2,10.7,11.3,11.4,10.6,9.5,10.2],
  [12.3,9.9,14.9,7.8,14.9,6.4,13.2,6.1,10.4,8.6],
  [12.3,9.4,13.8,7.9,13.2,7.6,11.9,8.9]
];
const d64 = [];
const h64 = ["","","","","","","000000001111","00000000132211","00000000143321","000000000122532111","000000000125796321","00000000012577753211","00000000001256652211","000000000012246322","00000000000123223","0000000000112211","000000000001111",""];
const s64 = [5.2,15.9,6.2,15.2,7.3,14.2,10.3,14.9,12.4,13.6,6.1,10.3,6.5,8.6,7.1,7.3,8.1,6.6,9,5.3,6,3.5,8.6,3.3,10.5,2.6,14.5,1.9,15.6,2.1,18,5.4,18.5,7.3];

const c65 = [
  [11.4,12.6,11.6,11.8,11,10.5,8.8,8.6,6.4,6,4.5,4,3.8,4.7,6,7.7,7.5,9.6,9.6,11.3],
  [10.5,11.1,10.7,10.3,8.4,7.7,6.4,6,5.8,6.7,7.7,9.1,9.4,10.5],
  [8.8,10.1,9.6,10.3,9,9.1,8.1,9.4]
];
const d65 = [7.4,7.8,0.8,0.9,8.4,8.6,0.9,1,6.4,6.7,0.4,0.5,5.4,5.6,0.3,0.4,10.2,10.7,0.7,0.7];
const h65 = ["","","","","","","","0000000000013","00000000002211","0000000004532","00000000585","000000479","000001772","00002291","00011","01"];
const s65 = [18.5,17.6,16,17.2,15.6,16,14.8,14.7,13.2,13.6,12.6,13.2,11.7,12.7,3.5,3.7,3.2,3.4,2.8,3,2.3,2.6,1.9,2.3,1.7,1.6,2.1,1.8,16.2,15.2,13.9,14.5,12.6,12.8];

const c70 = [
  [11.5,6.5,12,5.1,14.1,4.4,16.5,2.4,16.3,1.3,12.9,0.6,12.9,-1,8.2,-1,8.2,0.6,5.5,0.8,4.8,1.9,3.6,1.3,3.1,1.8,3.2,2.8,5.5,3.3,5.5,4.8,7.2,5.3,9.3,5.4,10.3,6.1],
  [7.6,4.6,9.6,4.3,12,5.1,14.1,3.8,15,2.6,14.1,1.6,12,1.1,8.2,1.1,6.2,1.9,5.7,2.6],
  [7,2.6,8.9,2.9,9.4,3.8,10.7,3.1,11.5,4.1,12,2.9,14,2.6,12,1.9,9.4,1.4,7.9,1.4],
  [8.9,2.6,9.9,3.1,11,2.6,10.5,2,9.5,2.1]
];
const d70 = [];
const h70 = ["","","","","","","","","","","","","","0000000000011","0000001111112111","00000122221122211","0001112456685421","000111257997431","0000012234432111","00000111111111"];
const s70 = [5.5,8.6,7.1,8.7,9.2,8.8,11.5,7.2,14.5,8.8,3.5,6.3,2.7,5.9,13.4,6.6,15.5,5.6,17.9,4.8,19.6,4,0.2,1.2,2.5,3.1,1.8,2.5,16.5,0.8,17.8,1.6,18.5,2.9,17.5,4];

const c71 = [
  [4.4,5.6,6.2,5.1,10,5.1,14.1,4.9,15.5,5,16.5,3.6,17.6,4.3,18.1,3.6,17,2.3,15.1,1.1,10.3,1.4,6.2,0.6,5.9,-1,4.4,-1,4.4,0.6,3.1,0.6,3.1,-1,1.3,-1,1,2.3,2.2,3.9,3.9,4.3],
  [4.1,4.1,6.5,5.3,8.2,4.9,10,4.8,10.1,3.6,12.5,3.6,13.6,4.5,15.5,3.8,15.5,2.1,13.8,1.3,8.6,1.6,6.5,0.8,3.4,0.8,2.6,2.1],
  [5,3.1,6.9,3.9,9.9,2.5,6.5,1.4,3.6,1.6,3.6,2.3]
];
const d71 = [5.5,2.6,0.55,0.5,14.3,2.6,0.45,0.15];
const h71 = ["","","","","","","","","","","","","","","000001111111111111","000011222111111111","00012456322222331","0012467862222211","00012343111111","00111111"];
const s71 = [5.5,6.3,10,6.7,11,6.2,13.8,6.7,15.3,7.2,16.5,5.8,17.4,5.1,8.2,6,12.1,6.1,18.2,4.6,17.1,5.5,0.8,3.6,1.6,4.5,18.6,2.4,17.5,1.5];

const c72 = [
  [6.4,5.9,8.8,5.1,12.3,5.4,14.2,4.8,15.3,5.1,16.9,3.9,16.4,1.9,14.9,1.3,11,1.4,7.3,0.6,7,-1,3.6,-1,3.6,0.6,2.7,0.7,1.7,1.6,2.5,3.1,4,4.3],
  [5.8,4.8,8.4,4.4,11,4.6,10.1,3.6,11.4,4.1,14.4,4.1,16,2.6,14.8,1.9,12.7,2.3,11.4,0.6,10.3,1.8,7.1,0.8,3.6,1.1,2.6,1.9,4,3.4],
  [5.1,3.6,8.4,3.4,11,2.6,8.4,1.8,6.2,1.1,4.7,1.8,4.5,2.8],
  [6.4,2.8,7.5,2.9,7.5,1.6,6,1.5]
];
const d72 = [12.4,2.6,0.25,0.25];
const h72 = ["","","","","","","","","","","","","","","00000001111111111","0000011222111112111","000011355331111411","000114689521111111","00012367221111111","00011222111"];
const s72 = [8,6.7,11.5,7,12.3,8.1,15.7,8,15.9,6.3,17.7,6,18.7,5.3,18.9,4,18,2.6,13.5,6.5,10,5.6,2.7,3.6,1.5,3.1,16.6,6.8];

const c73 = [
  [5.7,5.1,7.3,5.4,10.8,5.4,13.6,6.1,15.8,2.6,13.8,1.6,11.7,1.1,7.5,0.6,7.5,-1,2.5,-1,2.5,0.6,2,1.6,3,3.1,4.1,3.9],
  [5.8,4.1,8.2,4.8,11.3,4.8,13,4.3,13.6,4.1,14,3.6,12.5,1.9,10.8,1.8,7.3,0.9,4.7,1.1,3.4,1.9,4.3,3.3],
  [6.9,2.9,8.2,2.9,9.3,3.8,11.7,4.1,12.8,2.6,10.4,2.3,8.2,1.9,6.5,1.4,5.9,2.4]
];
const d73 = [8.5,2.6,0.85,0.35];
const h73 = ["","","","","","","","","","","","","","","00000001111111","00000112222221111","0000112233334211","0001122368766111","000112346531111","00001122221"];
const s73 = [12.6,7.3,9.5,5.8,13.5,6.7,15.9,6,16.4,3.6,16.2,2.6,17.4,4,18.9,5.1,15.9,7.7,17.1,8.3,0.7,2.8,15.8,1.1];

const c74 = [[9.5,5.2,11,3.9,13.6,3.1,16.2,1.6,14.5,0.8,12.3,1.9,10.6,2.9,8.9,4.5]];
const d74 = [11,3.6,0.9,0.55,12.4,2.6,1.4,0.7,12.4,2.6,0.5,0.25,14.7,1.5,0.9,0.45,8.4,5.5,0.25,0.25];
const h74 = ["","","","","","","","","","","","","","","000000000011","0000000000322","00000000000146","000000000000296","0000000000000122","000000000000011"];
const s74 = [3.6,11.3,5.2,9.1,6,7.9,6.6,7.2,6.9,6.8,7.3,6.3,7.8,5.8,8.1,5.6,16.7,0.8,17.1,0.6,17.5,0.4,18,0.3,18.4,0.3,19,0.2];

const c75 = [
  [8.4,5.4,10.3,5.4,11.4,6,13.1,4.5,11.8,3,10.3,1.3,6.6,0.8,4.7,-1,3,1.3,3,2.5,4.5,3.9,6.6,4.4],
  [8,4.2,10.1,5.1,11.2,4.9,10.7,3,9.5,1.7,6.2,0.8,4.9,0.8,3.8,1.9,5.1,3.2],
  [6,2.7,7.7,3.4,9.6,2.7,7.9,1.3,6.5,1.7]
];
const d75 = [];
const h75 = ["","","","","","","","","","","","","","","","00000000111221","000000001222211","0000012346432","00011256942","00112331111"];
const s75 = [2.7,8.6,3.3,8,5.9,9,10,6.8,9,7.5,14.2,7.3,15,6.1,12.6,6.6,13.5,6.6,1.9,5.2,1.4,3.6,2.1,3.2,3.4,4.9,14.9,3.7];

const c76 = [
  [9.2,4.9,11.2,5.4,12.7,5.6,13.3,4.2,12.7,3,11,1.5,8.4,1,8.4,-1,7.7,-1,7.7,0.8,5.1,0.8,3.4,1.3,3.1,2.2,4.7,3.9,7.2,4.7],
  [8.4,4.2,10.3,5.4,11.8,4.9,11.8,3.7,10.7,2.5,9.4,1.5,6.8,1,4.7,1.3,4.2,2,5.5,3.2],
  [6.4,2.5,8.4,3.4,9.9,2.7,8.1,1.5,6.2,1]
];
const d76 = [];
const h76 = ["","","","","","","","","","","","","","","","00000000113411","000000012234221","00000123467321","00001245892","00112332111"];
const s76 = [2.7,7.5,5.6,8.7,9.4,7.1,11.5,6.8,8.7,7,15.8,6.3,17.6,6.7,13.5,3.3,15.2,5.5,0.6,3.3,1.6,2,2.5,3.4,13.1,6.2];

const panelTable = [
  [1,0,c10,d10,h10,s10],[2,0,c20,d20,h20,s20],[2,1,c21,d21,h21,s21],
  [3,0,c30,d30,h30,s30],[3,1,c31,d31,h31,s31],[3,2,c32,d32,h32,s32],
  [4,0,c40,d40,h40,s40],[4,1,c41,d41,h41,s41],[4,2,c42,d42,h42,s42],[4,3,c43,d43,h43,s43],
  [5,0,c50,d50,h50,s50],[5,1,c51,d51,h51,s51],[5,2,c52,d52,h52,s52],[5,3,c53,d53,h53,s53],[5,4,c54,d54,h54,s54],
  [6,0,c60,d60,h60,s60],[6,1,c61,d61,h61,s61],[6,2,c62,d62,h62,s62],[6,3,c63,d63,h63,s63],[6,4,c64,d64,h64,s64],[6,5,c65,d65,h65,s65],
  [7,0,c70,d70,h70,s70],[7,1,c71,d71,h71,s71],[7,2,c72,d72,h72,s72],[7,3,c73,d73,h73,s73],[7,4,c74,d74,h74,s74],[7,5,c75,d75,h75,s75],[7,6,c76,d76,h76,s76]
];

// gray for density digit
const grays = [255, 246, 232, 208, 182, 150, 118, 88, 56, 0];
const fig = document.getElementById("fig");
Chart.defaults.font.family = '"DejaVu Sans", sans-serif';
Chart.defaults.font.size = 13.9;
Chart.defaults.color = "#000";
Chart.defaults.animation = false;

const PX = 100, PY = 39, PITCH = 210, SIZE = 200, TOP_PAD = 12;

function binToVal(v, b) { return axisLo[v] + b * (axisHi[v] - axisLo[v]) / 20; }

// draw the four spines
const boxPlugin = {
  id: "box",
  afterDatasetsDraw(chart) {
    const a = chart.chartArea, g = chart.ctx;
    g.save();
    g.strokeStyle = "#000";
    g.lineWidth = 1.1;
    g.strokeRect(a.left, a.top, a.right - a.left, a.bottom - a.top);
    g.restore();
  }
};

const measure = document.createElement("canvas").getContext("2d");
measure.font = '13.9px "DejaVu Sans"';

function noPad(s) { s.paddingTop = s.paddingBottom = s.paddingLeft = s.paddingRight = 0; }

function xScale(col, labelled, mB) {
  const w = measure.measureText(tickText[col][0]).width;
  return {
    type: "linear", min: axisLo[col], max: axisHi[col],
    afterBuildTicks(s) { s.ticks = tickVals[col].map(v => ({ value: v })); },
    afterFit(s) { s.height = mB; noPad(s); },
    border: { display: false },
    grid: { drawOnChartArea: false, drawTicks: true, tickLength: 5, tickColor: "#000", tickWidth: 1.1 },
    ticks: {
      display: labelled, autoSkip: false, minRotation: 45, maxRotation: 45, padding: 9,
      labelOffset: w * 0.5 * Math.SQRT1_2,
      callback(v, i) { return tickText[col][i]; }
    }
  };
}

function yScale(row, labelled, mL) {
  return {
    type: "linear", min: axisLo[row], max: axisHi[row],
    afterBuildTicks(s) { s.ticks = tickVals[row].map(v => ({ value: v })); },
    afterFit(s) { s.width = mL; noPad(s); },
    border: { display: false },
    grid: { drawOnChartArea: false, drawTicks: true, tickLength: 5, tickColor: "#000", tickWidth: 1.1 },
    ticks: {
      display: labelled, autoSkip: false, minRotation: 45, maxRotation: 45, padding: 7,
      callback(v, i) { return tickText[row][i]; }
    }
  };
}

function makeCanvas(row, col, mL, mB) {
  const cv = document.createElement("canvas");
  cv.width = mL + SIZE + 30;
  cv.height = TOP_PAD + SIZE + mB;
  cv.style.left = (PX + col * PITCH - mL) + "px";
  cv.style.top = (PY + row * PITCH - TOP_PAD) + "px";
  cv.style.width = cv.width + "px";
  cv.style.height = cv.height + "px";
  fig.appendChild(cv);
  return cv;
}

// diagonal histograms
hists.forEach((h, i) => {
  const mL = i === 0 ? 100 : 30, mB = i === 7 ? 110 : 10;
  const pts = h.map((v, b) => ({ x: binToVal(i, b), y: v }));
  pts.push({ x: binToVal(i, 20), y: h[19] });
  new Chart(makeCanvas(i, i, mL, mB), {
    type: "scatter",
    data: { datasets: [{ data: pts, showLine: true, stepped: true, borderColor: "#000", borderWidth: 1.4, pointRadius: 0 }] },
    options: {
      responsive: false, devicePixelRatio: 1, events: [],
      layout: { padding: { top: TOP_PAD, right: 30, left: mL, bottom: 0 } },
      plugins: { legend: { display: false }, tooltip: { enabled: false } },
      scales: { x: xScale(i, i === 7, mB), y: { display: false, min: 0, max: 100 } }
    },
    plugins: [boxPlugin]
  });
});

// lower triangle panels
panelTable.forEach(([row, col, contours, islands, heat, samples]) => {
  const mL = col === 0 ? 100 : 30, mB = row === 7 ? 110 : 10;
  const datasets = [];
  const cells = [], cellColors = [];
  heat.forEach((r, k) => {
    for (let b = 0; b < r.length; b++) {
      const d = +r[b];
      if (!d) continue;
      cells.push({ x: binToVal(col, b + 0.5), y: binToVal(row, 19.5 - k) });
      const g = grays[d];
      cellColors.push(`rgb(${g},${g},${g})`);
    }
  });
  datasets.push({ data: cells, order: 3, clip: 0, pointStyle: "rect", pointRadius: 7.2, pointBorderWidth: 0, pointBackgroundColor: cellColors });

  const dots = [];
  for (let k = 0; k < samples.length; k += 2) dots.push({ x: binToVal(col, samples[k]), y: binToVal(row, samples[k + 1]) });
  datasets.push({ data: dots, order: 2, clip: 0, pointRadius: 1.5, pointBorderWidth: 0, pointBackgroundColor: "rgba(0,0,0,0.13)" });

  const line = flat => {
    const pts = [];
    for (let k = 0; k < flat.length; k += 2) pts.push({ x: binToVal(col, flat[k]), y: binToVal(row, flat[k + 1]) });
    pts.push({ x: pts[0].x, y: pts[0].y });
    datasets.push({ data: pts, order: 1, clip: 0, showLine: true, borderColor: "#000", borderWidth: 1.9, pointRadius: 0, tension: 0.001 });
  };
  contours.forEach(line);
  for (let k = 0; k < islands.length; k += 4) {
    const [cx, cy, rx, ry] = islands.slice(k, k + 4);
    line([cx - rx, cy, cx, cy + ry, cx + rx, cy, cx, cy - ry]);
  }

  new Chart(makeCanvas(row, col, mL, mB), {
    type: "scatter",
    data: { datasets },
    options: {
      responsive: false, devicePixelRatio: 1, events: [],
      layout: { padding: { top: TOP_PAD, right: 30, left: 0, bottom: 0 } },
      plugins: { legend: { display: false }, tooltip: { enabled: false } },
      scales: { x: xScale(col, row === 7, mB), y: yScale(row, col === 0, mL) }
    },
    plugins: [boxPlugin]
  });
});

// text around the grid
function addText(html, css, cls) {
  const el = document.createElement("div");
  el.className = "txt " + (cls || "");
  el.innerHTML = html;
  Object.assign(el.style, css);
  fig.appendChild(el);
}

names.forEach((n, i) => {
  addText(`${n} = ${medians[i]}<span class="ss"><span>+${plusErr[i]}</span><span>\u2212${minusErr[i]}</span></span>`,
    { left: (PX + i * PITCH - 50) + "px", top: (PY + i * PITCH - 22) + "px" }, "ttl");
  addText(n, { left: (PX + i * PITCH + 100) + "px", top: "1770px", transform: "translateX(-50%)" });
  if (i > 0) addText(n, { left: "31px", top: (PY + i * PITCH + 100) + "px", transform: "translate(-50%,-50%) rotate(-90deg)" });
});
addText("1e\u22125", { left: "101px", top: "235px" });
addText("1e\u22127", { left: "101px", top: "1075px" });
addText("1e\u22125", { left: "473px", top: "1756px" });
addText("1e\u22127", { left: "1313px", top: "1748px" });
</script>
</body>
</html>
